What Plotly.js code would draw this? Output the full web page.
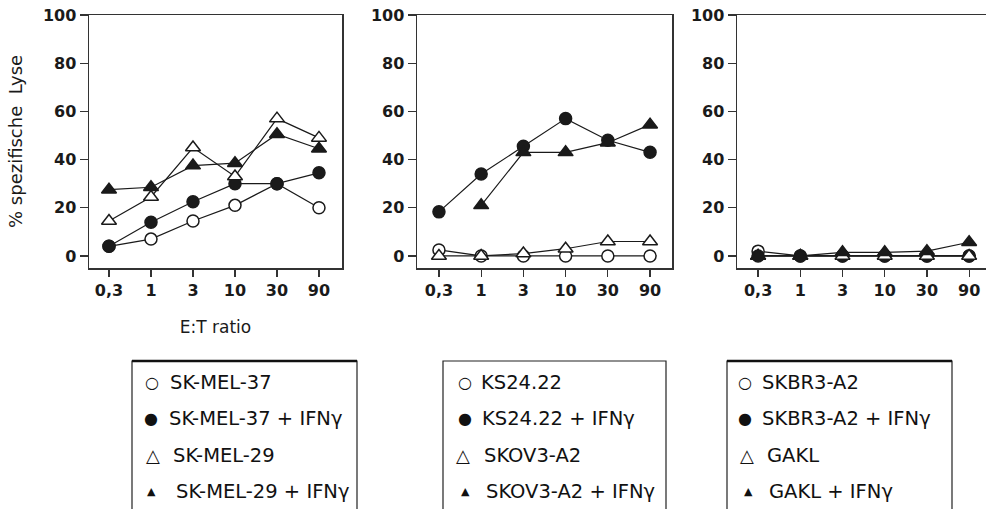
<!DOCTYPE html>
<html>
<head>
<meta charset="utf-8">
<script src="https://cdn.plot.ly/plotly-3.0.1.min.js"></script>
<style>html,body{margin:0;padding:0;background:#fff;}#chart{width:986px;height:509px;}</style>
</head>
<body>
<div id="chart"></div>
<script>
// ---- data ----
const etRatio = ['0,3', '1', '3', '10', '30', '90'];

// Panel 1
const p1Names = ['SK-MEL-37', 'SK-MEL-37 + IFNγ', 'SK-MEL-29', 'SK-MEL-29 + IFNγ'];
const skmel37 = [4, 7, 14.5, 21, 30, 20];
const skmel37Ifn = [4, 14, 22.5, 30, 30, 34.5];
const skmel29 = [14.5, 24.5, 45, 33, 57, 49];
const skmel29Ifn = [27.5, 28.5, 37.5, 38.5, 50.5, 44.5];

// Panel 2
const p2Names = ['KS24.22', 'KS24.22 + IFNγ', 'SKOV3-A2', 'SKOV3-A2 + IFNγ'];
const ks2422 = [2.5, 0, 0, 0, 0, 0];
const ks2422Ifn = [18.3, 34, 45.5, 57, 48, 43];
const skov3 = [0, 0, 1, 3, 6, 6];
const skov3Ifn = [null, 21, 43, 43, 47, 54.5];

// Panel 3
const p3Names = ['SKBR3-A2', 'SKBR3-A2 + IFNγ', 'GAKL', 'GAKL + IFNγ'];
const skbr3 = [2, 0, 0, 0, 0, 0];
const skbr3Ifn = [0, 0, 0, 0, 0, 0];
const gakl = [0, 0, 0, 0, 0, 0];
const gaklIfn = [0, 0, 1.5, 1.5, 2, 5.7];

const yTicks = [0, 20, 40, 60, 80, 100];
const yTitle = '% spezifische  Lyse';
const xTitle = 'E:T ratio';

// ---- styles ----
const FONT = 'DejaVu Sans, Liberation Sans, Arial, sans-serif';
const W = 986, H = 509;
const INK = '#1a1a1a';
const styles = [
  {symbol: 'circle', color: '#ffffff', size: 12},
  {symbol: 'circle', color: INK, size: 12},
  {symbol: 'triangle-up', color: '#ffffff', size: 13},
  {symbol: 'triangle-up', color: INK, size: 13}
];
const legendGlyphs = ['○', '●', '△', '▲'];

const panels = [
  {names: p1Names, series: [skmel37, skmel37Ifn, skmel29, skmel29Ifn], xs: '', px: [89, 342], range: [-0.476, 5.548], mirrorY: true},
  {names: p2Names, series: [ks2422, ks2422Ifn, skov3, skov3Ifn], xs: '2', px: [417, 672], range: [-0.52, 5.52], mirrorY: true},
  {names: p3Names, series: [skbr3, skbr3Ifn, gakl, gaklIfn], xs: '3', px: [737, 986], range: [-0.5, 5.4], mirrorY: false}
];

const data = [];
const layout = {
  width: W, height: H,
  margin: {l: 0, r: 0, t: 0, b: 0},
  paper_bgcolor: '#fff', plot_bgcolor: '#fff',
  showlegend: false,
  font: {family: FONT, color: INK},
  shapes: [], annotations: []
};

const yDom = [1 - 268 / H, 1 - 15 / H];

panels.forEach((p, i) => {
  p.series.forEach((vals, k) => {
    data.push({
      type: 'scatter', mode: 'lines+markers',
      x: etRatio, y: vals, name: p.names[k],
      xaxis: 'x' + p.xs, yaxis: 'y' + p.xs,
      line: {color: INK, width: 1.2},
      marker: {symbol: styles[k].symbol, size: styles[k].size, color: styles[k].color,
               line: {color: INK, width: 1.5}},
      cliponaxis: false
    });
  });
  const axLine = {showline: true, linecolor: '#333', linewidth: 1.5, showgrid: false, zeroline: false,
                  ticks: 'outside', tickcolor: '#333', tickwidth: 1.2};
  layout['xaxis' + p.xs] = Object.assign({}, axLine, {
    domain: [p.px[0] / W, p.px[1] / W], anchor: 'y' + p.xs,
    type: 'category', range: p.range, ticklen: 7, mirror: true,
    tickfont: {family: FONT, size: 16, weight: 'bold', color: INK},
    title: i === 0 ? {text: xTitle, font: {family: FONT, size: 17, color: INK}, standoff: 22} : undefined,
    automargin: false
  });
  layout['yaxis' + p.xs] = Object.assign({}, axLine, {
    domain: yDom, anchor: 'x' + p.xs,
    range: [-5, 100], tickvals: yTicks, ticklen: 8, mirror: p.mirrorY,
    tickfont: {family: FONT, size: 16, weight: 'bold', color: INK},
    automargin: false
  });
});

// y axis title (rotated) for the first panel
layout.annotations.push({xref: 'paper', yref: 'paper', x: 16 / W, y: 1 - 142 / H,
  xanchor: 'center', yanchor: 'middle', textangle: -90, showarrow: false, text: yTitle,
  font: {family: FONT, size: 18, color: INK}});

// ---- legend boxes ----
const boxes = [
  {x0: 132, x1: 357, thickTop: true, sym: [152, 151, 153, 151], txt: [168, 167, 171, 174]},
  {x0: 443, x1: 666, thickTop: false, sym: [465, 465, 463, 465], txt: [479, 480, 482, 484]},
  {x0: 727, x1: 952, thickTop: true, sym: [745, 745, 747, 748], txt: [760, 760, 765, 767]}
];
const rowsY = [382, 418, 455, 491];
const symSizes = [16, 16, 18, 11];
boxes.forEach((b, i) => {
  layout.shapes.push({type: 'rect', xref: 'paper', yref: 'paper',
    x0: b.x0 / W, x1: b.x1 / W, y0: 1 - 515 / H, y1: 1 - 361 / H,
    line: {color: '#222', width: 1.2}, fillcolor: 'rgba(0,0,0,0)'});
  if (b.thickTop) {
    layout.shapes.push({type: 'line', xref: 'paper', yref: 'paper',
      x0: b.x0 / W, x1: b.x1 / W, y0: 1 - 361 / H, y1: 1 - 361 / H,
      line: {color: '#111', width: 2.5}});
  }
  panels[i].names.forEach((nm, k) => {
    layout.annotations.push({xref: 'paper', yref: 'paper', x: b.sym[k] / W, y: 1 - rowsY[k] / H,
      xanchor: 'center', yanchor: 'middle', showarrow: false, text: legendGlyphs[k],
      font: {family: 'DejaVu Sans', size: symSizes[k], color: '#111'}});
    layout.annotations.push({xref: 'paper', yref: 'paper', x: b.txt[k] / W, y: 1 - rowsY[k] / H,
      xanchor: 'left', yanchor: 'middle', showarrow: false, text: nm,
      font: {family: FONT, size: 19.5, color: '#111'}});
  });
});

Plotly.newPlot('chart', data, layout, {staticPlot: true, displayModeBar: false});
</script>
</body>
</html>
